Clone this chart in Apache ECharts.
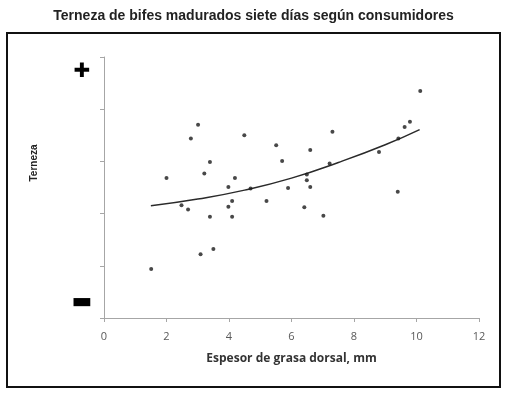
<!DOCTYPE html>
<html>
<head>
<meta charset="utf-8">
<script src="https://cdn.jsdelivr.net/npm/echarts@6/dist/echarts.min.js"></script>
<style>
  html, body { margin: 0; padding: 0; background: #ffffff; }
  #chart { width: 507px; height: 395px; }
</style>
</head>
<body>
<div id="chart"></div>
<script>
// Data
const titleText = "Terneza de bifes madurados siete días según consumidores";
const xAxisTitle = "Espesor de grasa dorsal, mm";
const yAxisTitle = "Terneza";

const grasaX = [3.01, 2.78, 4.49, 5.51, 3.39, 3.21, 2.00, 4.19, 3.98, 4.69,
                4.10, 5.20, 3.98, 2.48, 2.69, 3.39, 4.10, 3.50, 3.09, 1.51,
                10.12, 9.79, 9.62, 7.31, 6.60, 9.42, 8.80, 5.70, 7.22, 6.49,
                6.49, 5.89, 6.60, 9.40, 6.41, 7.02];
const ternezaY = [3.70, 3.44, 3.50, 3.31, 2.99, 2.77, 2.68, 2.68, 2.51, 2.48,
                  2.24, 2.24, 2.13, 2.16, 2.08, 1.94, 1.94, 1.32, 1.22, 0.94,
                  4.35, 3.76, 3.66, 3.57, 3.22, 3.44, 3.18, 3.01, 2.96, 2.75,
                  2.64, 2.49, 2.51, 2.42, 2.12, 1.96];

// Trend curve at a few x positions
const trendX = [1.5, 3.0, 4.5, 6.0, 7.5, 9.0, 10.1];
const trendY = [2.15, 2.28, 2.45, 2.68, 2.98, 3.32, 3.61];

const xTicks = [0, 2, 4, 6, 8, 10, 12];

const chart = echarts.init(document.getElementById('chart'), null, { renderer: 'canvas' });

const points = grasaX.map((x, i) => [x, ternezaY[i]]);
const trend = trendX.map((x, i) => [x, trendY[i]]);

const axisGray = '#a6a6a6';

chart.setOption({
  backgroundColor: '#ffffff',
  animation: false,
  title: {
    text: titleText,
    left: 'center',
    top: 4,
    textStyle: { fontFamily: 'Liberation Sans', fontWeight: 'bold', fontSize: 14, color: '#222' }
  },
  grid: { left: 104, right: 28, top: 57, bottom: 77, containLabel: false },
  xAxis: {
    type: 'value',
    min: 0, max: 12, interval: 2,
    name: xAxisTitle,
    nameLocation: 'middle',
    nameGap: 35,
    nameTextStyle: { fontFamily: 'Open Sans', fontWeight: 'bold', fontSize: 12, color: '#333' },
    axisLine: { show: true, lineStyle: { color: axisGray, width: 1 } },
    axisTick: { show: true, length: 4, lineStyle: { color: axisGray } },
    axisLabel: {
      margin: 13,
      fontFamily: 'Open Sans', fontSize: 11, color: '#595959',
      formatter: v => xTicks.includes(v) ? String(v) : ''
    },
    splitLine: { show: false }
  },
  yAxis: {
    type: 'value',
    min: 0, max: 5, interval: 1,
    axisLine: { show: true, lineStyle: { color: axisGray, width: 1 } },
    axisTick: { show: true, length: 4, lineStyle: { color: axisGray } },
    axisLabel: { show: false },
    splitLine: { show: false }
  },
  graphic: [
    {
      type: 'rect',
      shape: { x: 7, y: 33, width: 493, height: 354 },
      style: { fill: 'none', stroke: '#111', lineWidth: 2 },
      silent: true
    },
    {
      type: 'text',
      x: 34, y: 163,
      rotation: Math.PI / 2,
      style: {
        text: yAxisTitle,
        fontFamily: 'Liberation Sans', fontWeight: 'bold', fontSize: 10,
        fill: '#222', align: 'center', verticalAlign: 'middle'
      }
    },
    {
      type: 'text',
      x: 82, y: 72,
      style: {
        text: '✚', fontFamily: 'DejaVu Sans', fontSize: 20,
        fill: '#000', align: 'center', verticalAlign: 'middle'
      }
    },
    {
      type: 'text',
      x: 82, y: 302,
      style: {
        text: '▬', fontFamily: 'DejaVu Sans', fontSize: 22,
        fill: '#000', align: 'center', verticalAlign: 'middle'
      }
    }
  ],
  series: [
    {
      type: 'scatter',
      data: points,
      symbol: 'circle',
      symbolSize: 4,
      itemStyle: { color: '#1a1a1a' },
      z: 3
    },
    {
      type: 'line',
      data: trend,
      smooth: true,
      showSymbol: false,
      lineStyle: { color: '#2a2a2a', width: 1.5 },
      z: 2
    }
  ]
});
</script>
</body>
</html>
